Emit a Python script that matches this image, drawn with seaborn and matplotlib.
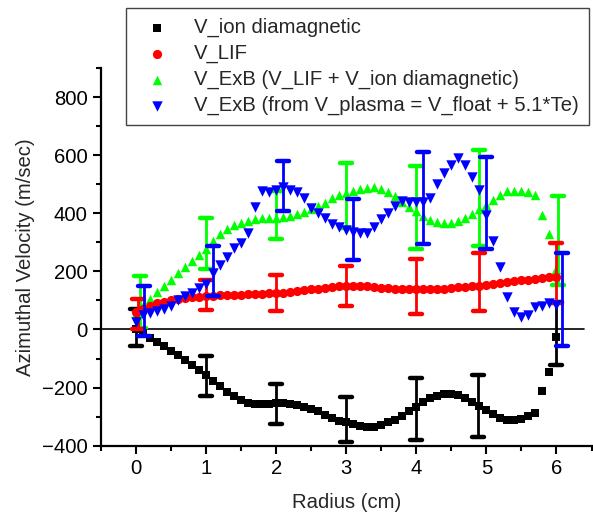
import numpy as np
import pandas as pd
import matplotlib
matplotlib.use("Agg")
import matplotlib.pyplot as plt
from matplotlib.markers import MarkerStyle
import seaborn as sns

# Radial positions (cm), sampled every 0.1 cm
radius = np.round(np.arange(61) * 0.1, 1)

v_ion_dia = [0, -12, -28, -42, -57, -73, -89, -105, -122, -138,
             -158, -178, -196, -215, -230, -243, -252, -257, -258, -256,
             -254, -254, -257, -260, -266, -272, -280, -293, -303, -314,
             -320, -326, -331, -334, -334, -328, -320, -310, -297, -280,
             -266, -248, -236, -228, -222, -221, -227, -236, -249, -262,
             -276, -291, -304, -313, -312, -308, -299, -286, -212, -147,
             -25]

v_lif = [60, 72, 82, 90, 96, 101, 105, 108, 111, 113,
         115, 116, 117, 118, 119, 120, 121, 122, 123, 124,
         125, 127, 129, 132, 135, 138, 141, 144, 146, 148,
         149, 149, 149, 148, 146, 144, 142, 140, 139, 138,
         138, 138, 139, 140, 141, 143, 145, 147, 149, 151,
         154, 157, 160, 163, 166, 169, 172, 175, 177, 179,
         181]

v_exb_lif = [58, 82, 106, 130, 151, 172, 195, 215, 236, 256,
             278, 305, 328, 345, 358, 368, 375, 380, 383, 384,
             385, 386, 390, 396, 404, 414, 425, 437, 452, 462,
             470, 477, 484, 488, 489, 484, 474, 460, 440, 422,
             407, 390, 378, 370, 365, 366, 373, 383, 398, 413,
             430, 447, 462, 475, 478, 478, 473, 462, 394, 329,
             207]

v_exb_plasma = [25, 50, 58, 63, 71, 82, 102, 116, 127, 142,
                156, 193, 222, 251, 282, 299, 333, 421, 477, 474,
                480, 489, 480, 472, 452, 417, 400, 383, 363, 354,
                342, 337, 331, 333, 354, 379, 400, 425, 443, 440,
                440, 440, 452, 501, 540, 566, 589, 566, 526, 480,
                394, 305, 214, 113, 61, 42, 50, 78, 81, 92,
                85]

# Error bars at the probe positions
err_dia_x = [0.0, 1.0, 2.0, 3.0, 4.0, 4.88, 6.0]
err_dia_y = [6, -160, -257, -310, -274, -263, -14]
err_dia_e = [64, 69, 68, 76, 106, 108, 108]

err_lif_x = [0.03, 1.0, 2.0, 3.0, 4.0, 4.9, 6.0]
err_lif_y = [53, 119, 126, 150, 147, 164, 193]
err_lif_e = [51, 52, 62, 69, 94, 100, 103]

err_exb_lif_x = [0.05, 1.0, 2.0, 3.0, 4.0, 4.9, 6.02]
err_exb_lif_y = [95, 295, 393, 460, 419, 453, 306]
err_exb_lif_e = [90, 88, 83, 112, 143, 165, 153]

err_exb_pl_x = [0.12, 1.1, 2.1, 3.1, 4.1, 5.0, 6.08]
err_exb_pl_y = [64, 202, 495, 344, 453, 434, 103]
err_exb_pl_e = [86, 87, 86, 105, 159, 158, 160]

labels = ["V_ion diamagnetic", "V_LIF",
          "V_ExB (V_LIF + V_ion diamagnetic)",
          "V_ExB (from V_plasma = V_float + 5.1*Te)"]

df = pd.DataFrame({
    "radius": radius,
    "dia": v_ion_dia,
    "lif": v_lif,
    "exb_lif": v_exb_lif,
    "exb_pl": v_exb_plasma,
})

FS = 14.6
sns.set_style("ticks")
plt.rcParams["font.family"] = ["Liberation Sans", "DejaVu Sans"]
plt.rcParams["axes.linewidth"] = 1.6

fig = plt.figure(figsize=(5.93, 5.13), dpi=100)
ax = fig.add_axes([101 / 593, (513 - 445.7) / 513, 490.5 / 593, 377.7 / 513])

BLACK, RED, GREEN, BLUE = "#000000", "#ff0000", "#00ff00", "#0000ff"

ax.axhline(0, xmin=0, xmax=(6.4 + 0.5) / 7.0, color="black", lw=1.2, zorder=1)

round_cap = MarkerStyle("_", capstyle="round")


def draw_errors(x, y, e, color, z):
    _, caps, _ = ax.errorbar(x, y, yerr=e, fmt="none", ecolor=color,
                             elinewidth=2.0, capsize=4.2, capthick=3.2, zorder=z)
    for c in caps:
        c.set_marker(round_cap)


draw_errors(err_exb_lif_x, err_exb_lif_y, err_exb_lif_e, GREEN, 2)
draw_errors(err_dia_x, err_dia_y, err_dia_e, BLACK, 3)
draw_errors(err_lif_x, err_lif_y, err_lif_e, RED, 4)
draw_errors(err_exb_pl_x, err_exb_pl_y, err_exb_pl_e, BLUE, 5)

sns.scatterplot(data=df, x="radius", y="exb_lif", marker="^", s=46, color=GREEN,
                linewidth=0, ax=ax, label=labels[2], zorder=2.5)
sns.scatterplot(data=df, x="radius", y="dia", marker="s", s=36, color=BLACK,
                linewidth=0, ax=ax, label=labels[0], zorder=3.5)
sns.scatterplot(data=df, x="radius", y="lif", marker="o", s=44, color=RED,
                linewidth=0, ax=ax, label=labels[1], zorder=4.5)
sns.scatterplot(data=df, x="radius", y="exb_pl", marker="v", s=56, color=BLUE,
                linewidth=0, ax=ax, label=labels[3], zorder=5.5)

ax.set_xlim(-0.5, 6.5)
ax.set_ylim(-400, 900)
ax.set_xticks(range(0, 7))
ax.set_xticks(np.arange(-0.5, 6.6, 1.0), minor=True)
ax.set_yticks(range(-400, 801, 200))
ax.set_yticks(range(-300, 901, 200), minor=True)
ax.tick_params(axis="both", which="major", direction="out", length=5.5, width=1.5,
               labelsize=FS, pad=4, color="black", labelcolor="black")
ax.tick_params(axis="both", which="minor", direction="out", length=3.5, width=1.5,
               color="black")
ax.spines["top"].set_visible(False)
ax.spines["right"].set_visible(False)
for s in ("left", "bottom"):
    ax.spines[s].set_color("black")

ax.set_xlabel("Radius (cm)", fontsize=FS, labelpad=11)
ax.set_ylabel("Azimuthal Velocity (m/sec)", fontsize=FS, labelpad=5)

handles, labs = ax.get_legend_handles_labels()
order = [labs.index(l) for l in labels]
ax.legend_.remove()
leg = fig.legend([handles[i] for i in order], [labs[i] for i in order],
                 loc="upper right", bbox_to_anchor=(589 / 593, 1 - 8 / 513),
                 fontsize=FS, frameon=True, fancybox=False, framealpha=1,
                 edgecolor="#444444", borderpad=0.5, labelspacing=0.33,
                 handlelength=2.0, handletextpad=0.85, borderaxespad=0)
leg.get_frame().set_linewidth(1.0)

fig.savefig("out.png", dpi=100)
